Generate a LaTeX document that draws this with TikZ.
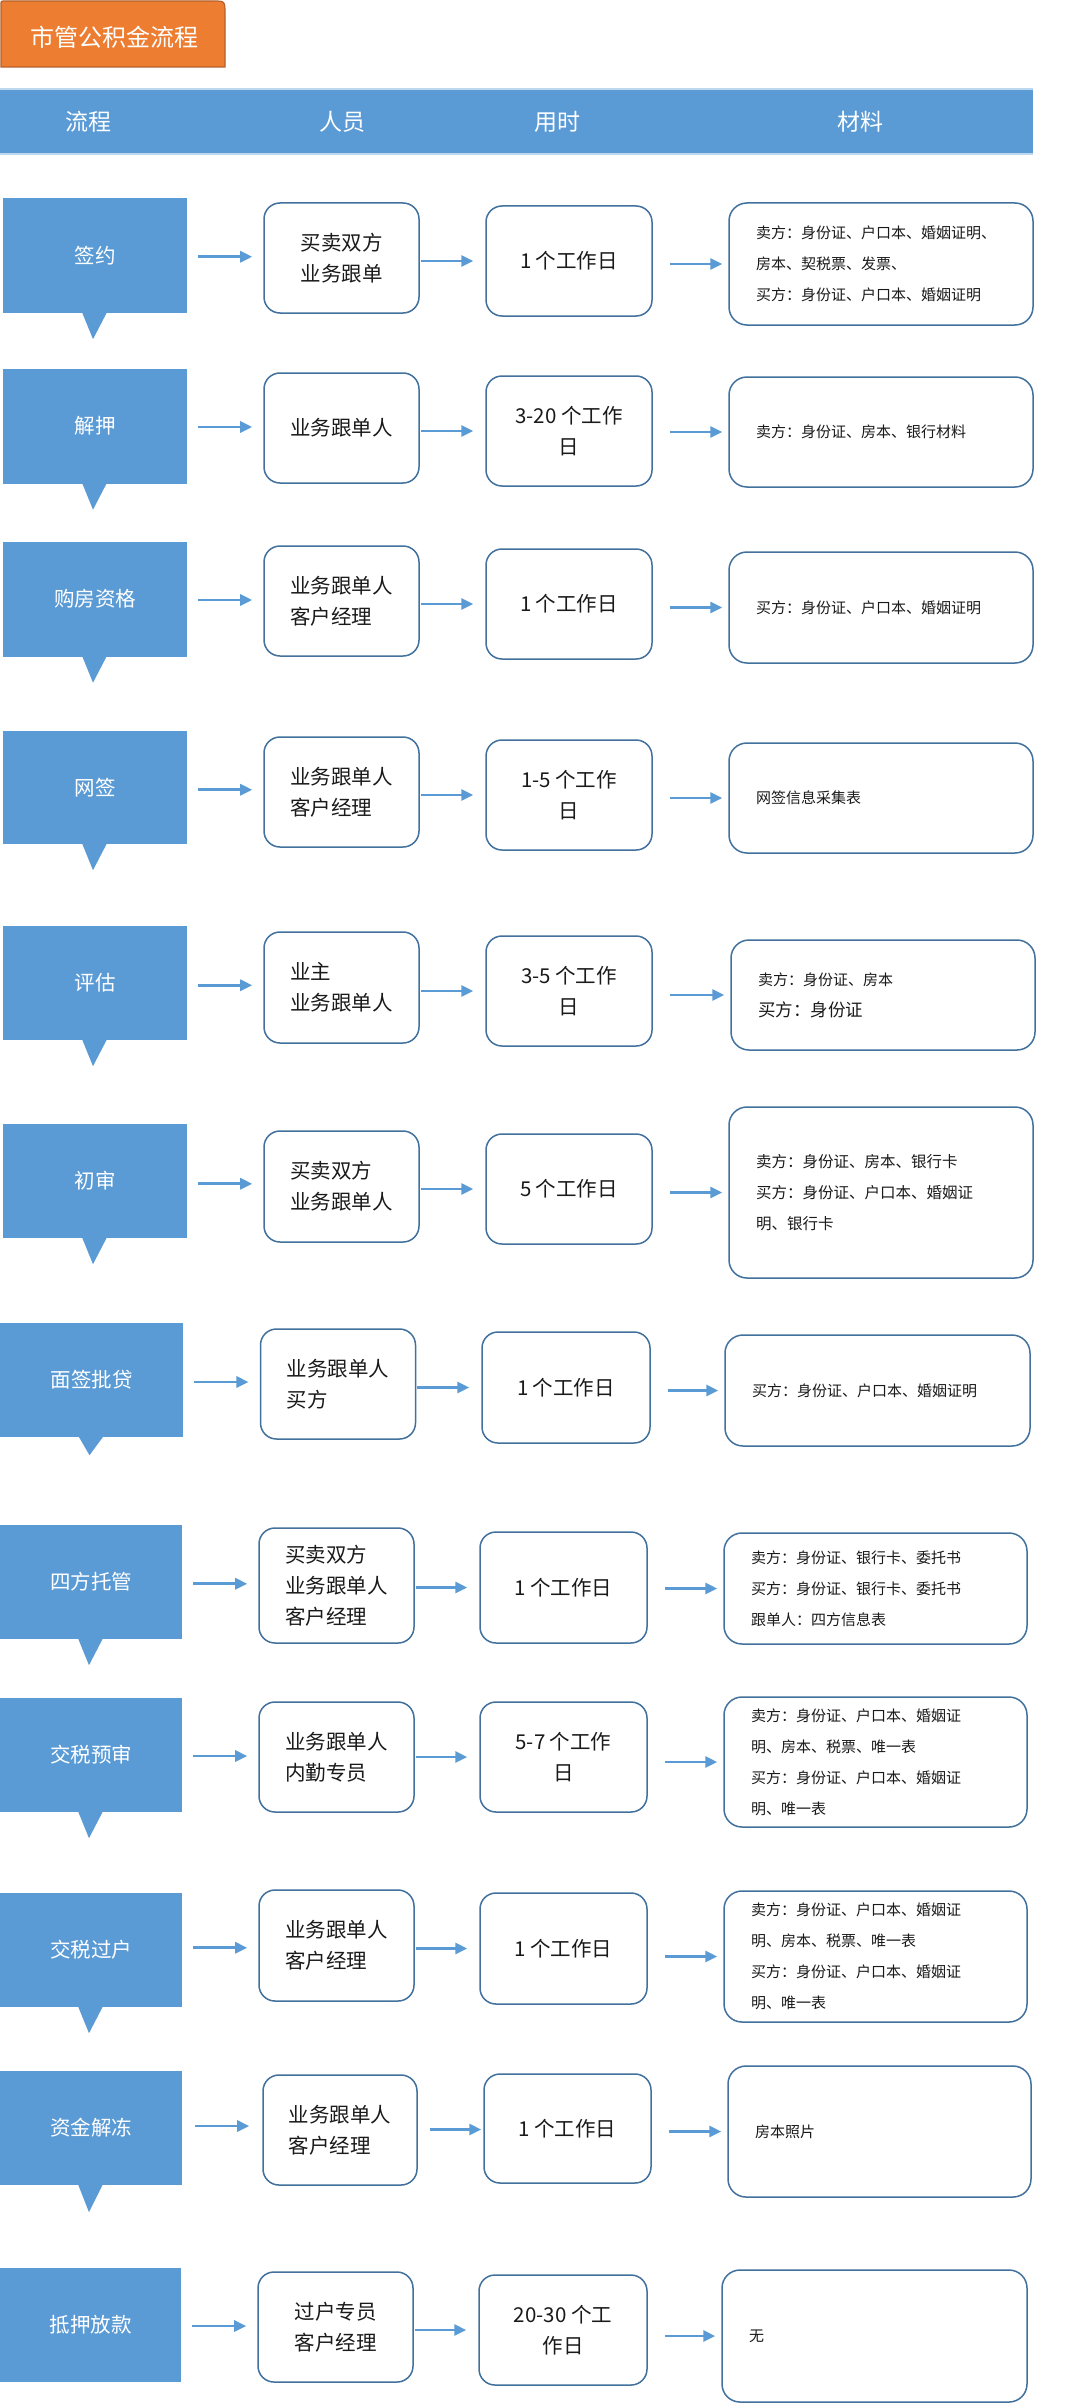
\documentclass[tikz,border=0pt]{standalone}
\usepackage{fontspec}
\newfontfamily\cjk{Noto Sans CJK SC}
\usetikzlibrary{calc,arrows.meta}
\definecolor{stageblue}{HTML}{5B9BD5}
\definecolor{boxline}{HTML}{41719C}
\definecolor{arrowblue}{HTML}{5B9BD5}
\definecolor{taborange}{HTML}{ED7D31}
\definecolor{tabline}{HTML}{B4612A}
\definecolor{hdrline}{HTML}{BDD7EE}
\definecolor{textc}{HTML}{1A1A1A}
\tikzset{
  stage/.style={fill=stageblue, text=white, minimum width=184pt, minimum height=115pt, inner sep=0pt,
    font={\cjk\fontsize{20.5pt}{24pt}\selectfont}},
  who/.style={draw=boxline, line width=1.5pt, rounded corners=16pt, fill=white, align=left, inner sep=0pt,
    minimum width=155pt, minimum height=110pt, text=textc, font={\cjk\fontsize{20.5pt}{31pt}\selectfont}},
  dur/.style={draw=boxline, line width=1.5pt, rounded corners=16pt, fill=white, align=center, inner sep=0pt,
    minimum width=166pt, minimum height=110pt, text=textc, font={\cjk\fontsize{20.5pt}{31pt}\selectfont}},
  mat/.style={draw=boxline, line width=1.5pt, rounded corners=18pt, fill=white, align=left, inner xsep=27pt,
    inner ysep=0pt, text width=250pt, minimum height=110pt, text=textc, font={\cjk\fontsize{15pt}{31pt}\selectfont}},
  arr/.style={draw=arrowblue, line width=2.8pt, -{Triangle[length=12pt,width=11pt]}},
  hdrtext/.style={text=white, font={\cjk\fontsize{23pt}{26pt}\selectfont}},
}
\newcommand\stagetip[2]{\fill[stageblue] ($(#1.south)+(-13,-1)$) -- ($(#1.south)+(12,-1)$) -- ($(#1.south)+(-2,#2)$) -- cycle;}
\newcommand\rowarrows[4]{%
  \draw[arr] ($(#1.east)!0.5!(#2.west)+(-27,0)$) -- ($(#1.east)!0.5!(#2.west)+(27,0)$);
  \draw[arr] ($(#2.east |- #3.west)+(1,0)$) -- ($(#3.west)+(-12,0)$);
  \draw[arr] ($(#3.east |- #4.west)+(17,0)$) -- ($(#4.west)+(-6,0)$);}
\begin{document}
\begin{tikzpicture}[x=1pt,y=-1pt]
\useasboundingbox (0,0) rectangle (1076,2408);
\fill[white] (0,0) rectangle (1076,2408);

% title tab
\filldraw[fill=taborange, draw=tabline, line width=1.2pt] (1,67) -- (1,5) .. controls (1,1) .. (5,1) -- (213,1) .. controls (225,1) .. (225,14) -- (225,67) -- cycle;
\node[text=white, font={\cjk\fontsize{24pt}{28pt}\selectfont}] (title) at (114,37) {市管公积金流程};

% header bar
\node[fill=stageblue, minimum width=1033pt, minimum height=65pt, inner sep=0pt, anchor=north west] (hdr) at (0,89) {};
\draw[hdrline, line width=2pt] (hdr.north west) -- (hdr.north east);
\draw[hdrline, line width=2pt] (hdr.south west) -- (hdr.south east);
\node[hdrtext] (h1) at (88,122) {流程};
\node[hdrtext] (h2) at (342,122) {人员};
\node[hdrtext] (h3) at (557,122) {用时};
\node[hdrtext] (h4) at (860,122) {材料};

% row 1
\node[stage] (s1) at (95,255.5) {签约};
\stagetip{s1}{26}
\node[who] (p1) at (341.5,258) {买卖双方\\业务跟单};
\node[dur] (t1) at (569,261) {1 个工作日};
\node[mat, minimum height=122pt] (m1) at (881,264) {卖方：身份证、户口本、婚姻证明、\\房本、契税票、发票、\\买方：身份证、户口本、婚姻证明};
\rowarrows{s1}{p1}{t1}{m1}

% row 2
\node[stage] (s2) at (95,426) {解押};
\stagetip{s2}{26}
\node[who] (p2) at (341.5,428) {业务跟单人};
\node[dur] (t2) at (569,431) {3-20 个工作\\日};
\node[mat] (m2) at (881,432) {卖方：身份证、房本、银行材料};
\rowarrows{s2}{p2}{t2}{m2}

% row 3
\node[stage] (s3) at (95,599) {购房资格};
\stagetip{s3}{26}
\node[who] (p3) at (341.5,601) {业务跟单人\\客户经理};
\node[dur] (t3) at (569,604) {1 个工作日};
\node[mat, minimum height=111pt] (m3) at (881,607.5) {买方：身份证、户口本、婚姻证明};
\rowarrows{s3}{p3}{t3}{m3}

% row 4
\node[stage, minimum height=113pt] (s4) at (95,787.5) {网签};
\stagetip{s4}{26}
\node[who] (p4) at (341.5,792) {业务跟单人\\客户经理};
\node[dur] (t4) at (569,795) {1-5 个工作\\日};
\node[mat] (m4) at (881,798) {网签信息采集表};
\rowarrows{s4}{p4}{t4}{m4}

% row 5
\node[stage, minimum height=114pt] (s5) at (95,983) {评估};
\stagetip{s5}{26}
\node[who, minimum height=111pt] (p5) at (341.5,987.5) {业主\\业务跟单人};
\node[dur] (t5) at (569,991) {3-5 个工作\\日};
\node[mat] (m5) at (883,995) {{\fontsize{15pt}{30pt}\selectfont 卖方：身份证、房本}\\{\fontsize{17.5pt}{30pt}\selectfont 买方：身份证}};
\rowarrows{s5}{p5}{t5}{m5}

% row 6
\node[stage, minimum height=114pt] (s6) at (95,1181) {初审};
\stagetip{s6}{26}
\node[who, minimum height=111pt] (p6) at (341.5,1186.5) {买卖双方\\业务跟单人};
\node[dur] (t6) at (569,1189) {5 个工作日};
\node[mat, minimum height=171pt, font={\cjk\fontsize{15.5pt}{31pt}\selectfont}] (m6) at (881,1192.5) {卖方：身份证、房本、银行卡\\买方：身份证、户口本、婚姻证\\明、银行卡};
\rowarrows{s6}{p6}{t6}{m6}

% row 7
\node[stage, minimum width=183pt, minimum height=114pt] (s7) at (91.5,1380) {面签批贷};
\stagetip{s7}{18}
\node[who] (p7) at (338,1384) {业务跟单人\\买方};
\node[dur, minimum width=168pt, minimum height=111pt] (t7) at (566,1387.5) {1 个工作日};
\node[mat, text width=251pt, minimum height=111pt] (m7) at (877.5,1390.5) {买方：身份证、户口本、婚姻证明};
\rowarrows{s7}{p7}{t7}{m7}

% row 8
\node[stage, minimum width=182pt, minimum height=114pt] (s8) at (91,1582) {四方托管};
\stagetip{s8}{26}
\node[who, minimum height=115pt] (p8) at (336.5,1585.5) {买卖双方\\业务跟单人\\客户经理};
\node[dur, minimum width=167pt, minimum height=111pt] (t8) at (563.5,1587.5) {1 个工作日};
\node[mat, text width=249pt, minimum height=111pt] (m8) at (875.5,1588.5) {卖方：身份证、银行卡、委托书\\买方：身份证、银行卡、委托书\\跟单人：四方信息表};
\rowarrows{s8}{p8}{t8}{m8}

% row 9
\node[stage, minimum width=182pt, minimum height=114pt] (s9) at (91,1755) {交税预审};
\stagetip{s9}{26}
\node[who] (p9) at (336.5,1757) {业务跟单人\\内勤专员};
\node[dur, minimum width=167pt] (t9) at (563.5,1757) {5-7 个工作\\日};
\node[mat, text width=249pt, minimum height=130pt] (m9) at (875.5,1762) {卖方：身份证、户口本、婚姻证\\明、房本、税票、唯一表\\买方：身份证、户口本、婚姻证\\明、唯一表};
\rowarrows{s9}{p9}{t9}{m9}

% row 10
\node[stage, minimum width=182pt, minimum height=114pt] (s10) at (91,1950) {交税过户};
\stagetip{s10}{26}
\node[who, minimum height=111pt] (p10) at (336.5,1945.5) {业务跟单人\\客户经理};
\node[dur, minimum width=167pt, minimum height=111pt] (t10) at (563.5,1948.5) {1 个工作日};
\node[mat, text width=249pt, minimum height=131pt] (m10) at (875.5,1956.5) {卖方：身份证、户口本、婚姻证\\明、房本、税票、唯一表\\买方：身份证、户口本、婚姻证\\明、唯一表};
\rowarrows{s10}{p10}{t10}{m10}

% row 11
\node[stage, minimum width=182pt, minimum height=114pt] (s11) at (91,2128) {资金解冻};
\stagetip{s11}{27}
\node[who, minimum width=154pt] (p11) at (340,2130) {业务跟单人\\客户经理};
\node[dur, minimum width=167pt, minimum height=109pt] (t11) at (567.5,2128.5) {1 个工作日};
\node[mat, text width=249pt, minimum height=131pt] (m11) at (879.5,2131.5) {房本照片};
\draw[arr] ($(s11.east)!0.5!(p11.west)+(-27,-3)$) -- ($(s11.east)!0.5!(p11.west)+(27,-3)$);
\draw[arr] ($(p11.east |- t11.west)+(12,1)$) -- ($(t11.west)+(-2,1)$);
\draw[arr] ($(t11.east |- m11.west)+(17,0)$) -- ($(m11.west)+(-6,0)$);

% row 12
\node[stage, minimum width=181pt, minimum height=114pt] (s12) at (90.5,2325) {抵押放款};
\node[who] (p12) at (335.5,2327) {过户专员\\客户经理};
\node[dur, minimum width=168pt] (t12) at (563,2330) {20-30 个工\\作日};
\node[mat, text width=251pt, minimum height=132pt] (m12) at (874.5,2336) {无};
\rowarrows{s12}{p12}{t12}{m12}
\end{tikzpicture}
\end{document}
